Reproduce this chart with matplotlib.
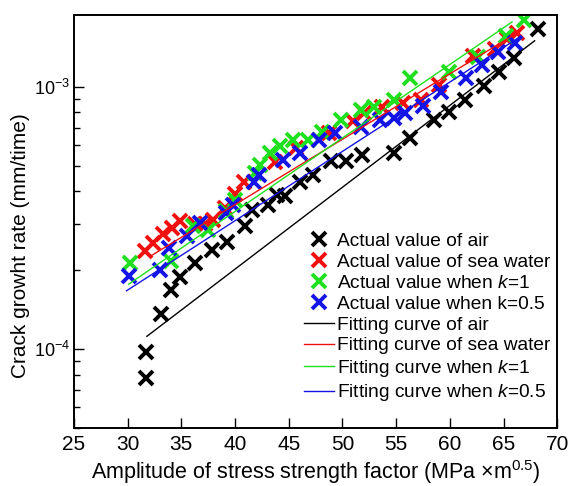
import matplotlib
matplotlib.use("Agg")
import matplotlib.pyplot as plt

plt.rcParams['font.family'] = ['Liberation Sans', 'DejaVu Sans']
plt.rcParams['mathtext.fontset'] = 'custom'
plt.rcParams['mathtext.rm'] = 'Liberation Sans'
plt.rcParams['mathtext.it'] = 'Liberation Sans:italic'

# measured points (x: stress intensity amplitude, y: crack growth rate)
air_x = [31.7, 31.7, 33.1, 34.0, 34.9, 36.3, 37.9, 39.3, 40.9, 41.6, 43.1, 43.9, 44.7,
         46.1, 47.3, 48.9, 50.3, 51.8, 54.8, 56.3, 58.5, 59.9, 61.4, 63.2, 64.6, 66.0, 68.2]
air_y = [0.78e-4, 0.98e-4, 1.36e-4, 1.68e-4, 1.89e-4, 2.14e-4, 2.40e-4, 2.56e-4, 2.94e-4,
         3.40e-4, 3.56e-4, 3.88e-4, 3.83e-4, 4.36e-4, 4.63e-4, 5.20e-4, 5.22e-4, 5.51e-4,
         5.60e-4, 6.38e-4, 7.50e-4, 8.05e-4, 8.93e-4, 10.1e-4, 11.4e-4, 12.9e-4, 16.7e-4]

sea_x = [31.6, 32.4, 33.3, 34.1, 34.9, 36.3, 37.2, 38.0, 39.1, 40.0, 40.8, 43.7, 45.7,
         48.8, 51.0, 52.0, 53.7, 55.6, 57.3, 59.0, 62.2, 64.2, 65.3, 66.3]
sea_y = [2.37e-4, 2.55e-4, 2.74e-4, 2.90e-4, 3.08e-4, 2.99e-4, 3.00e-4, 3.12e-4, 3.46e-4,
         3.90e-4, 4.36e-4, 5.16e-4, 5.85e-4, 6.67e-4, 7.40e-4, 7.94e-4, 8.41e-4, 8.70e-4,
         8.93e-4, 10.2e-4, 13.1e-4, 14.0e-4, 15.3e-4, 16.0e-4]

k1_x = [30.2, 34.0, 36.1, 37.5, 39.2, 40.0, 41.9, 42.3, 43.3, 44.2, 45.4, 46.8, 48.1,
        49.9, 51.7, 52.9, 54.8, 56.3, 59.9, 62.6, 65.2, 66.9]
k1_y = [2.14e-4, 2.17e-4, 2.94e-4, 2.86e-4, 3.36e-4, 3.72e-4, 4.70e-4, 5.04e-4, 5.60e-4,
        5.93e-4, 6.28e-4, 6.28e-4, 6.76e-4, 7.50e-4, 8.18e-4, 8.41e-4, 8.93e-4, 10.8e-4,
        11.4e-4, 13.0e-4, 15.6e-4, 18.0e-4]

k05_x = [30.1, 33.0, 33.9, 35.5, 36.7, 39.2, 39.8, 41.8, 42.2, 44.5, 46.1, 47.8, 49.3,
         51.7, 53.5, 54.8, 55.8, 57.5, 59.2, 61.5, 63.0, 64.5, 66.1]
k05_y = [1.90e-4, 2.01e-4, 2.44e-4, 2.70e-4, 3.03e-4, 3.31e-4, 3.55e-4, 4.36e-4, 4.63e-4,
         5.27e-4, 5.60e-4, 6.28e-4, 6.67e-4, 7.06e-4, 7.50e-4, 7.60e-4, 7.94e-4, 8.48e-4,
         9.60e-4, 10.8e-4, 12.1e-4, 13.6e-4, 14.7e-4]

# fitting curves, end points
fit_air_x, fit_air_y = [31.8, 67.9], [1.12e-4, 1.50e-3]
fit_sea_x, fit_sea_y = [32.1, 66.4], [2.26e-4, 1.62e-3]
fit_k1_x, fit_k1_y = [30.1, 65.8], [1.77e-4, 1.77e-3]
fit_k05_x, fit_k05_y = [29.9, 66.6], [1.67e-4, 1.56e-3]

RED = '#f01010'
GREEN = '#1ee01e'
BLUE = '#1414e6'

fig = plt.figure(figsize=(5.68, 4.86), dpi=100)
ax = fig.add_axes([0.130, 0.119, 0.851, 0.850])

mk = dict(ls='none', marker='x', ms=9.5, mew=2.8)
ax.plot(air_x, air_y, color='black', label='Actual value of air', **mk)
ax.plot(sea_x, sea_y, color=RED, label='Actual value of sea water', **mk)
ax.plot(k1_x, k1_y, color=GREEN, label='Actual value when $\\it{k}$=1', **mk)
ax.plot(k05_x, k05_y, color=BLUE, label='Actual value when k=0.5', **mk)

ax.plot(fit_air_x, fit_air_y, color='black', lw=1, label='Fitting curve of air')
ax.plot(fit_sea_x, fit_sea_y, color=RED, lw=1, label='Fitting curve of sea water')
ax.plot(fit_k1_x, fit_k1_y, color=GREEN, lw=1, label='Fitting curve when $\\it{k}$=1')
ax.plot(fit_k05_x, fit_k05_y, color=BLUE, lw=1, label='Fitting curve when $\\it{k}$=0.5')

ax.set_yscale('log')
ax.set_xlim(25, 70)
ax.set_ylim(5.0e-5, 1.88e-3)
ax.set_xticks(range(25, 71, 5))

ax.tick_params(which='both', direction='in', width=1)
ax.tick_params(axis='x', labelsize=15, pad=5)
ax.tick_params(axis='y', labelsize=13, pad=3)
ax.tick_params(which='major', length=7)
ax.tick_params(which='minor', length=4)
for s in ax.spines.values():
    s.set_linewidth(1.4)

ax.set_xlabel('Amplitude of stress strength factor (MPa \u00d7m$^{0.5}$)', fontsize=15.5, labelpad=3)
ax.set_ylabel('Crack growht rate (mm/time)', fontsize=15)
ax.yaxis.set_label_coords(-0.09, 0.443)

ax.legend(loc='lower right', bbox_to_anchor=(0.985, 0.06), frameon=False, fontsize=13.8,
          labelspacing=0.18, handlelength=1.55, handletextpad=0.15, borderpad=0,
          borderaxespad=0)

fig.savefig('out.png', dpi=100)
